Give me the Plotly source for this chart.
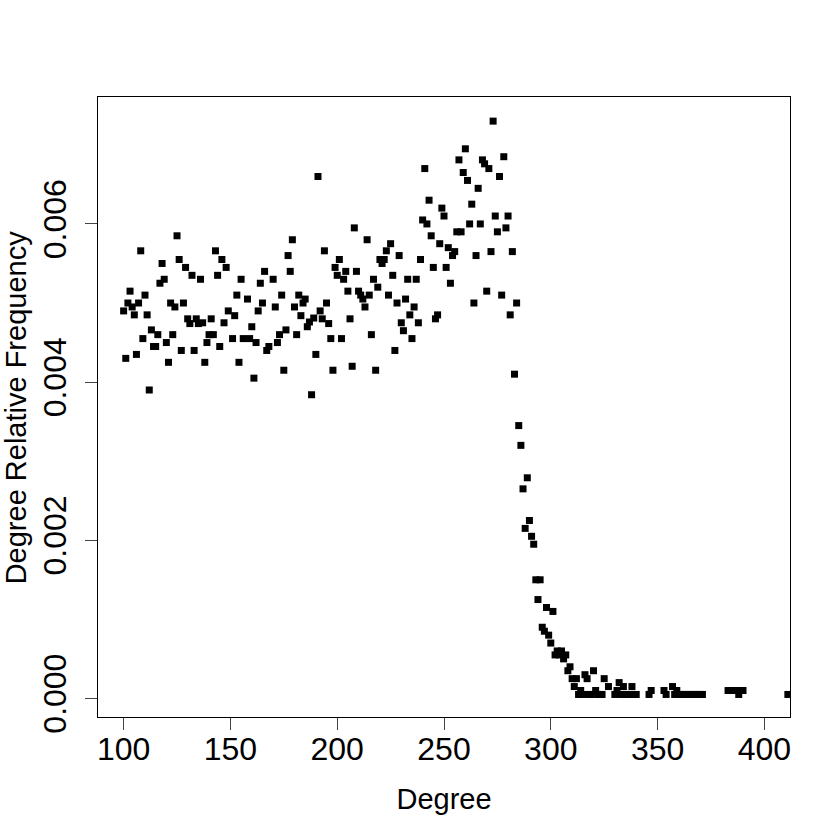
import plotly.graph_objects as go

# degree values (x) and their relative frequency (y)
degree = [
    100, 101, 102, 103, 104, 105, 106, 107, 108, 109,
    110, 111, 112, 113, 114, 115, 116, 117, 118, 119,
    120, 121, 122, 123, 124, 125, 126, 127, 128, 129,
    130, 131, 132, 133, 134, 135, 136, 137, 138, 139,
    140, 141, 142, 143, 144, 145, 146, 147, 148, 149,
    151, 152, 153, 154, 155, 156, 158, 159, 160, 161,
    162, 163, 164, 165, 166, 167, 168, 170, 171, 172,
    173, 174, 175, 176, 177, 178, 179, 180, 181, 182,
    183, 184, 185, 186, 187, 188, 189, 190, 191, 192,
    193, 194, 195, 196, 197, 198, 199, 200, 201, 202,
    203, 204, 205, 206, 207, 208, 209, 210, 211, 212,
    213, 214, 215, 216, 217, 218, 219, 220, 221, 222,
    223, 224, 225, 226, 227, 228, 229, 230, 231, 232,
    233, 234, 235, 236, 237, 238, 239, 240, 241, 242,
    243, 244, 245, 246, 247, 248, 249, 250, 251, 252,
    253, 254, 255, 256, 257, 258, 259, 260, 261, 262,
    263, 264, 265, 266, 267, 268, 269, 270, 271, 272,
    273, 274, 275, 276, 277, 278, 279, 280, 281, 282,
    283, 284, 285, 286, 287, 288, 289, 290, 291, 292,
    293, 294, 295, 296, 297, 298, 299, 300, 301, 302,
    303, 304, 305, 306, 307, 308, 309, 310, 311, 312,
    313, 314, 315, 316, 317, 318, 319, 320, 321, 322,
    323, 324, 325, 327, 330, 331, 332, 333, 334, 335,
    336, 337, 338, 339, 340, 346, 347, 353, 354, 357,
    358, 359, 360, 361, 362, 363, 364, 365, 366, 367,
    368, 369, 370, 371, 383, 384, 385, 386, 387, 388,
    389, 390, 411,
]

rel_freq = [
    .00490, .00430, .00500, .00515, .00495, .00485, .00435, .00500, .00566, .00455,
    .00510, .00485, .00390, .00466, .00445, .00445, .00460, .00525, .00550, .00530,
    .00450, .00425, .00500, .00460, .00495, .00585, .00555, .00440, .00500, .00545,
    .00480, .00474, .00535, .00440, .00480, .00474, .00530, .00475, .00425, .00450,
    .00460, .00480, .00460, .00566, .00535, .00445, .00555, .00475, .00545, .00490,
    .00455, .00484, .00510, .00425, .00530, .00455, .00505, .00455, .00470, .00405,
    .00450, .00490, .00525, .00500, .00540, .00440, .00445, .00530, .00495, .00450,
    .00460, .00510, .00415, .00466, .00560, .00540, .00580, .00495, .00460, .00510,
    .00484, .00500, .00505, .00470, .00476, .00384, .00481, .00435, .00660, .00490,
    .00480, .00566, .00500, .00474, .00455, .00415, .00545, .00535, .00555, .00455,
    .00530, .00540, .00515, .00480, .00420, .00595, .00540, .00515, .00510, .00505,
    .00495, .00580, .00510, .00460, .00530, .00415, .00520, .00555, .00550, .00555,
    .00566, .00510, .00575, .00535, .00440, .00500, .00560, .00475, .00465, .00505,
    .00530, .00485, .00455, .00495, .00530, .00475, .00555, .00605, .00670, .00600,
    .00630, .00585, .00545, .00480, .00485, .00575, .00620, .00610, .00545, .00570,
    .00525, .00560, .00565, .00590, .00681, .00590, .00665, .00695, .00655, .00600,
    .00625, .00500, .00560, .00645, .00600, .00681, .00676, .00515, .00670, .00565,
    .00730, .00610, .00590, .00660, .00510, .00685, .00595, .00610, .00485, .00565,
    .00410, .00500, .00345, .00320, .00265, .00215, .00279, .00225, .00205, .00195,
    .00150, .00125, .00150, .00090, .00085, .00115, .00080, .00070, .00110, .00055,
    .00060, .00055, .00060, .00050, .00055, .00035, .00040, .00025, .00015, .00025,
    .00005, .00010, .00005, .00030, .00025, .00005, .00005, .00035, .00010, .00005,
    .00005, .00005, .00025, .00015, .00005, .00010, .00020, .00005, .00015, .00005,
    .00005, .00005, .00015, .00005, .00005, .00005, .00010, .00010, .00005, .00015,
    .00005, .00010, .00005, .00005, .00005, .00005, .00005, .00005, .00005, .00005,
    .00005, .00005, .00005, .00005, .00010, .00010, .00010, .00010, .00010, .00005,
    .00010, .00010, .00005,
]

x_ticks = [100, 150, 200, 250, 300, 350, 400]
y_ticks = [0.000, 0.002, 0.004, 0.006]

FONT = "Liberation Sans, Arial, Helvetica, sans-serif"

fig = go.Figure()

fig.add_trace(go.Scatter(
    x=degree,
    y=rel_freq,
    mode="markers",
    marker=dict(symbol="square", size=7, color="black", line=dict(width=0)),
    showlegend=False,
    hoverinfo="x+y"
))

axis_style = dict(
    showline=True, mirror=True, linecolor="black", linewidth=1,
    ticks="outside", ticklen=12, tickcolor="#444", tickwidth=1,
    showgrid=False, zeroline=False,
    tickfont=dict(size=32, color="black", family=FONT),
)

fig.update_xaxes(
    range=[88, 412],
    tickvals=x_ticks,
    ticklabelstandoff=-8,
    title=dict(text="Degree", font=dict(size=29, color="black", family=FONT), standoff=22),
    **axis_style
)
fig.update_yaxes(
    range=[-0.000235, 0.007605],
    tickvals=y_ticks,
    tickformat=".3f",
    tickangle=-90,
    ticklabelstandoff=6,
    **axis_style
)

# y title as an annotation, so it can sit further out in the margin
fig.add_annotation(
    text="Degree Relative Frequency",
    xref="paper", yref="paper",
    x=-0.118, y=0.5,
    xanchor="center", yanchor="middle",
    textangle=-90,
    showarrow=False,
    font=dict(size=29, color="black", family=FONT),
)

fig.update_layout(
    width=840, height=840,
    margin=dict(l=98, r=50, t=97, b=123, autoexpand=False),
    plot_bgcolor="white",
    paper_bgcolor="white",
    font=dict(family=FONT, color="black"),
)

# drop the default 8px body margin so the figure starts at the window corner
fig.write_html(
    "out.html",
    config={"displayModeBar": False},
    post_script="document.body.style.margin='0';",
)
